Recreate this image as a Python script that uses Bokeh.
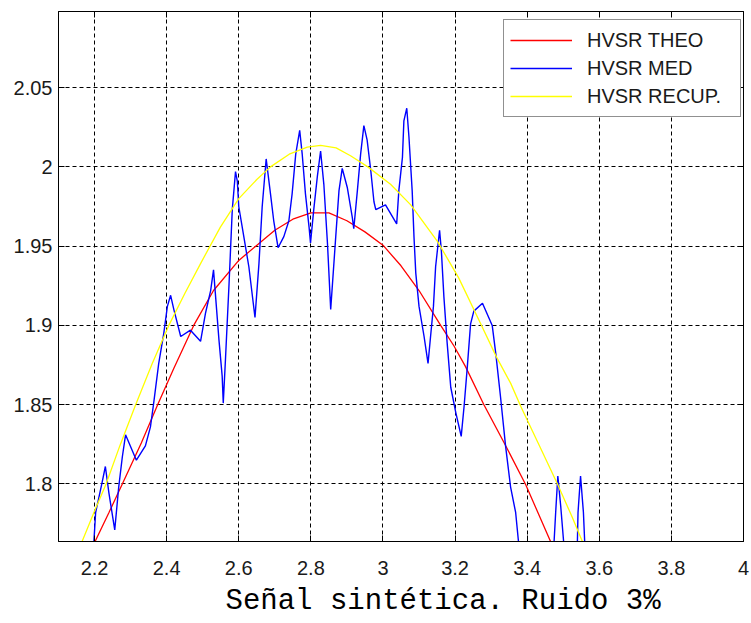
from bokeh.plotting import figure
from bokeh.models import Range1d, FixedTicker, LinearAxis, Legend, LegendItem, Title
from bokeh.embed import file_html
from bokeh.resources import INLINE

# ---- data ----
x_ticks = [2.2, 2.4, 2.6, 2.8, 3.0, 3.2, 3.4, 3.6, 3.8, 4.0]
x_tick_labels = ["2.2", "2.4", "2.6", "2.8", "3", "3.2", "3.4", "3.6", "3.8", "4"]
y_ticks = [1.8, 1.85, 1.9, 1.95, 2.0, 2.05]
y_tick_labels = ["1.8", "1.85", "1.9", "1.95", "2", "2.05"]

theo_x = [2.19, 2.20, 2.24, 2.277, 2.33, 2.375, 2.42, 2.475, 2.53, 2.60, 2.647, 2.70,
          2.75, 2.80, 2.85, 2.90, 2.95, 3.00, 3.05, 3.10, 3.16, 3.197, 3.229, 3.28,
          3.336, 3.396, 3.47, 3.48]
theo_y = [1.758, 1.763, 1.782, 1.800, 1.826, 1.850, 1.873, 1.900, 1.922, 1.941, 1.950, 1.960,
          1.967, 1.971, 1.971, 1.966, 1.959, 1.9506, 1.9376, 1.922, 1.900, 1.887, 1.874, 1.850,
          1.826, 1.7995, 1.761, 1.756]

med_x = [2.190, 2.198, 2.203, 2.221, 2.230, 2.240, 2.256, 2.267, 2.277, 2.286, 2.316, 2.341,
         2.355, 2.364, 2.378, 2.392, 2.402, 2.411, 2.420, 2.439, 2.466, 2.494, 2.508, 2.522,
         2.530, 2.545, 2.554, 2.557, 2.563, 2.573, 2.582, 2.591, 2.596, 2.600, 2.614, 2.628,
         2.645, 2.656, 2.665, 2.676, 2.688, 2.697, 2.709, 2.725, 2.739, 2.748, 2.758, 2.769,
         2.776, 2.785, 2.795, 2.799, 2.808, 2.818, 2.827, 2.836, 2.846, 2.855, 2.869, 2.878,
         2.887, 2.901, 2.915, 2.919, 2.929, 2.938, 2.947, 2.956, 2.966, 2.975, 2.980, 3.007,
         3.038, 3.044, 3.054, 3.058, 3.066, 3.072, 3.081, 3.086, 3.091, 3.100, 3.114, 3.125,
         3.132, 3.140, 3.146, 3.157, 3.162, 3.169, 3.178, 3.188, 3.202, 3.217, 3.225, 3.234,
         3.243, 3.252, 3.276, 3.303, 3.313, 3.326, 3.340, 3.354, 3.368, 3.377, 3.420, 3.474,
         3.479, 3.485, 3.493, 3.502, 3.520, 3.539, 3.541, 3.548, 3.556, 3.560, 3.580]
med_y = [1.745, 1.763, 1.782, 1.801, 1.811, 1.794, 1.771, 1.798, 1.817, 1.831, 1.815, 1.824,
         1.836, 1.851, 1.876, 1.895, 1.912, 1.919, 1.910, 1.893, 1.897, 1.890, 1.908, 1.922,
         1.935, 1.891, 1.868, 1.851, 1.878, 1.926, 1.973, 1.997, 1.991, 1.975, 1.956, 1.937,
         1.905, 1.939, 1.975, 2.005, 1.983, 1.966, 1.949, 1.956, 1.966, 1.983, 2.008, 2.023,
         2.008, 1.983, 1.962, 1.952, 1.973, 1.994, 2.010, 1.989, 1.952, 1.910, 1.956, 1.985,
         1.999, 1.987, 1.968, 1.961, 1.985, 2.008, 2.026, 2.017, 1.998, 1.978, 1.973, 1.976,
         1.964, 1.985, 2.006, 2.029, 2.037, 2.019, 1.985, 1.956, 1.933, 1.912, 1.893, 1.876,
         1.893, 1.912, 1.937, 1.960, 1.947, 1.918, 1.889, 1.861, 1.845, 1.830, 1.849, 1.874,
         1.901, 1.909, 1.914, 1.900, 1.882, 1.855, 1.824, 1.798, 1.782, 1.761, 1.740, 1.761,
         1.782, 1.805, 1.786, 1.761, 1.750, 1.761, 1.782, 1.805, 1.782, 1.761, 1.745]

recup_x = [2.155, 2.166, 2.20, 2.232, 2.27, 2.314, 2.36, 2.406, 2.45, 2.494, 2.549, 2.60,
           2.65, 2.688, 2.74, 2.79, 2.827, 2.87, 2.91, 2.958, 3.021, 3.077, 3.151, 3.21,
           3.271, 3.315, 3.354, 3.382, 3.43, 3.484, 3.525, 3.558, 3.57]
recup_y = [1.757, 1.764, 1.783, 1.800, 1.824, 1.850, 1.876, 1.900, 1.920, 1.939, 1.962, 1.980,
           1.992, 2.000, 2.008, 2.0125, 2.0136, 2.012, 2.007, 2.000, 1.989, 1.976, 1.953, 1.930,
           1.901, 1.880, 1.8636, 1.849, 1.826, 1.800, 1.779, 1.761, 1.755]

series_labels = ["HVSR THEO", "HVSR MED", "HVSR RECUP."]
series_colors = ["#FF0000", "#0000FF", "#FFFF00"]
xlabel_text = "Señal sintética. Ruido 3%"

# ---- figure ----
p = figure(width=751, height=623,
           x_range=Range1d(2.1, 4.0), y_range=Range1d(1.7637, 2.098),
           output_backend="svg", toolbar_location=None,
           min_border_left=58, min_border_right=8, min_border_top=11, min_border_bottom=81)
p.background_fill_color = "white"
p.border_fill_color = "white"
p.outline_line_color = "black"
p.outline_line_width = 1

xt = FixedTicker(ticks=x_ticks)
yt = FixedTicker(ticks=y_ticks)

def style_axis(ax, ticker, labels, show_labels):
    ax.ticker = ticker
    ax.major_label_overrides = {t: (l if show_labels else "") for t, l in zip(ticker.ticks, labels)}
    ax.axis_line_color = "black"
    ax.axis_line_width = 1
    ax.major_tick_line_color = "black"
    ax.major_tick_in = 6
    ax.major_tick_out = 0
    ax.minor_tick_line_color = None
    ax.major_label_text_font = "Liberation Sans"
    ax.major_label_text_font_size = "20px"
    ax.major_label_text_color = "#1a1a1a"

style_axis(p.xaxis[0], xt, x_tick_labels, True)
style_axis(p.yaxis[0], yt, y_tick_labels, True)
p.xaxis[0].major_label_standoff = 19
p.yaxis[0].major_label_standoff = 6

top_ax = LinearAxis()
style_axis(top_ax, FixedTicker(ticks=x_ticks), x_tick_labels, False)
top_ax.major_label_standoff = 0
p.add_layout(top_ax, "above")
right_ax = LinearAxis()
style_axis(right_ax, FixedTicker(ticks=y_ticks), y_tick_labels, False)
right_ax.major_label_standoff = 0
p.add_layout(right_ax, "right")

p.xgrid.ticker = xt
p.ygrid.ticker = yt
for g in (p.xgrid, p.ygrid):
    g.grid_line_color = "black"
    g.grid_line_alpha = 1
    g.grid_line_width = 1
    g.grid_line_dash = "4 3"

r_theo = p.line(theo_x, theo_y, line_color=series_colors[0], line_width=1.3)
r_med = p.line(med_x, med_y, line_color=series_colors[1], line_width=1.4)
r_recup = p.line(recup_x, recup_y, line_color=series_colors[2], line_width=1.3)

legend = Legend(items=[LegendItem(label=series_labels[0], renderers=[r_theo]),
                       LegendItem(label=series_labels[1], renderers=[r_med]),
                       LegendItem(label=series_labels[2], renderers=[r_recup])],
                location=(445, 424))
legend.padding = 6
legend.spacing = 0
legend.margin = 0
legend.glyph_width = 62
legend.glyph_height = 28
legend.label_height = 28
legend.label_width = 147
legend.label_standoff = 15
legend.label_text_font = "Liberation Sans"
legend.label_text_font_size = "20px"
legend.label_text_color = "#1a1a1a"
legend.border_line_color = "#222222"
legend.border_line_width = 1
legend.background_fill_color = "white"
legend.background_fill_alpha = 1
p.add_layout(legend)

title = Title(text=xlabel_text, align="left", offset=167, vertical_align="bottom",
              text_font="Liberation Mono", text_font_size="29px",
              text_font_style="normal", text_color="black", standoff=11)
p.add_layout(title, "below")

open("out.html", "w").write(file_html(p, INLINE))
